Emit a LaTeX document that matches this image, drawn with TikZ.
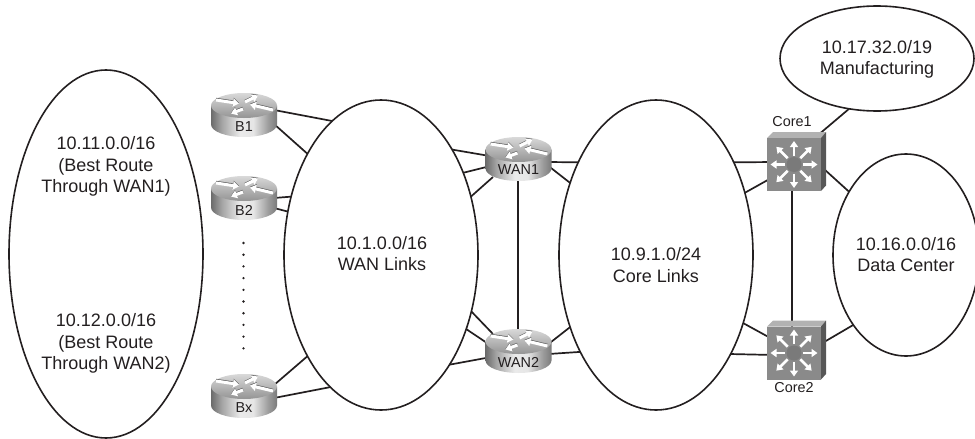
\documentclass[tikz,border=0pt]{standalone}
\usepackage{fontspec}
\setmainfont{Liberation Sans}
\usetikzlibrary{arrows.meta,shapes.geometric}
\definecolor{ink}{HTML}{231F20}
\pgfdeclarehorizontalshading{routerbody}{100bp}{
  color(0bp)=(black!58); color(25bp)=(black!58); color(33bp)=(black!36);
  color(47bp)=(black!8); color(57bp)=(black!10); color(68bp)=(black!38);
  color(75bp)=(black!52); color(100bp)=(black!52)}
\tikzset{
  x=1pt,y=-1pt,
  net/.style={draw=ink,line width=1.6pt,shape=ellipse,inner sep=0pt,outer sep=0pt},
  link/.style={draw=ink,line width=1.7pt},
  netlabel/.style={font=\fontsize{18}{21.6}\selectfont,text=ink,align=center,inner sep=0pt},
  devlabel/.style={font=\fontsize{14.4}{16}\selectfont,text=ink,inner sep=0pt},
  devbox/.style={inner sep=0pt,outer sep=0pt,minimum size=0pt},
  whitearrow/.style={draw=white,line width=3pt,-{Triangle[length=6pt,width=8pt]}},
  shadearrow/.style={draw=black!62,line width=3pt,-{Triangle[length=6pt,width=8pt]}},
  router/.pic={
    \shade[shading=routerbody]
      (-33,-9.5) -- (-33,9.5) arc[start angle=180,end angle=360,x radius=33pt,y radius=12.5pt] -- (33,-9.5) -- cycle;
    \shade[top color=black!15,bottom color=black!42] (0,-9.5) ellipse[x radius=33pt,y radius=12.5pt];
    \foreach \xa/\ya/\xb/\yb in {-28/-15/-5/-11.5, 1/-13/14/-19.5, 29/-5/6/-10.5, -1/-6/-13/-1.5}{
      \draw[shadearrow] (\xa,\ya-0.7) -- (\xb,\yb-0.7);
      \draw[whitearrow] (\xa,\ya) -- (\xb,\yb);
    }
  },
  switchbox/.pic={
    \fill[black!30] (-27,-26.5) -- (-21,-32.5) -- (32,-32.5) -- (27,-26.5) -- cycle;
    \fill[black!66] (27,-26.5) -- (32,-32.5) -- (32,21) -- (27,26.5) -- cycle;
    \fill[black!46] (-27,-26.5) rectangle (27,26.5);
    \foreach \a in {0,45,...,315}{
      \draw[draw=white,line width=2.8pt,-{Triangle[length=6pt,width=8pt]}]
        (\a:9) -- (\a:{mod(\a,90)==0 ? 23.5 : 25});
    }
    \fill[black!52] (0,0) circle[radius=7.5pt];
  }
}
\begin{document}
\begin{tikzpicture}
\useasboundingbox (0,0) rectangle (975,439);
% networks
\node[net,minimum width=194pt,minimum height=368pt] (left) at (106,254) {};
\node[net,minimum width=194pt,minimum height=310pt] (wan) at (381,255) {};
\node[net,minimum width=194pt,minimum height=310pt] (core) at (656,255) {};
\node[net,minimum width=146pt,minimum height=202pt] (dc) at (906,255) {};
\node[net,minimum width=194pt,minimum height=105pt] (mfg) at (877,58.5) {};
% device reference points
\node[devbox] (b1) at (244,115) {};
\node[devbox] (b2) at (244,198) {};
\node[devbox] (bx) at (244,396) {};
\node[devbox] (wan1) at (518.5,159) {};
\node[devbox] (wan2) at (518.5,351) {};
\node[devbox] (core1) at (794,164.5) {};
\node[devbox] (core2) at (794,353) {};
% connectors
\draw[link] ([shift={(30,-5)}]b1.center) -- (wan.110.8);
\draw[link] ([shift={(30,9)}]b1.center) -- (wan.126);
\draw[link] ([shift={(30,0)}]b2.center) -- (wan.147.5);
\draw[link] ([shift={(30,10)}]b2.center) -- (wan.155.9);
\draw[link] ([shift={(30,-11)}]bx.center) -- (wan.234);
\draw[link] ([shift={(30,2)}]bx.center) -- (wan.249);
\draw[link] (wan.56.7) -- ([shift={(-30,-3.2)}]wan1.center);
\draw[link] (wan.45.3) -- ([shift={(-30,7.5)}]wan1.center);
\draw[link] (wan.33) -- ([shift={(-25.5,18)}]wan1.center);
\draw[link] (wan.-32.5) -- ([shift={(-25.5,-17)}]wan2.center);
\draw[link] (wan.-41) -- ([shift={(-30,-7)}]wan2.center);
\draw[link] (wan.-58) -- ([shift={(-30,6.5)}]wan2.center);
\draw[link] ([shift={(30,3)}]wan1.center) -- (core.130.3);
\draw[link] ([shift={(30,7)}]wan1.center) -- (core.140.4);
\draw[link] ([shift={(30,-7)}]wan2.center) -- (core.220);
\draw[link] ([shift={(30,3)}]wan2.center) -- (core.232.9);
\draw[link] ([xshift=-0.5pt]wan1.center) -- ([xshift=-0.5pt]wan2.center);
\draw[link] (core.50) -- ([shift={(-20,-2.5)}]core1.center);
\draw[link] (core.35.7) -- ([shift={(-20,12)}]core1.center);
\draw[link] (core.-38) -- ([shift={(-20,-13)}]core2.center);
\draw[link] (core.-53.5) -- ([shift={(-20,2)}]core2.center);
\draw[link] ([shift={(25,-0)}]core1.center) -- (dc.132.6);
\draw[link] ([shift={(25,-8)}]core2.center) -- (dc.233.6);
\draw[link] ([shift={(20,-26)}]core1.center) -- (mfg.241.5);
\draw[link] ([xshift=-2pt]core1.center) -- ([xshift=-2pt]core2.center);
% icons
\pic at (b1) {router};
\pic at (b2) {router};
\pic at (bx) {router};
\pic at (wan1) {router};
\pic at (wan2) {router};
\pic at (core1) {switchbox};
\pic at (core2) {switchbox};
% dots
\foreach \i in {0,...,9}{
  \fill[ink] (243.5,{243+\i*11.7}) circle[radius=1.3pt];
}
% labels
\node[netlabel] (leftA) at (106,166.5) {10.11.0.0/16\\(Best Route\\Through WAN1)};
\node[netlabel] (leftB) at (106,343.5) {10.12.0.0/16\\(Best Route\\Through WAN2)};
\node[netlabel] (wanT) at (382,253.5) {10.1.0.0/16\\WAN Links};
\node[netlabel] (coreT) at (656,265) {10.9.1.0/24\\Core Links};
\node[netlabel] (dcT) at (906,254.5) {10.16.0.0/16\\Data Center};
\node[netlabel] (mfgT) at (877,59.5) {10.17.32.0/19\\Manufacturing};
\node[devlabel] (b1T) at (244,127) {B1};
\node[devlabel] (b2T) at (244,210) {B2};
\node[devlabel] (bxT) at (244,408) {Bx};
\node[devlabel] (wan1T) at (518.5,170) {WAN1};
\node[devlabel] (wan2T) at (518.5,362) {WAN2};
\node[devlabel] (core1T) at (792,122) {Core1};
\node[devlabel] (core2T) at (794,388) {Core2};
\end{tikzpicture}
\end{document}
